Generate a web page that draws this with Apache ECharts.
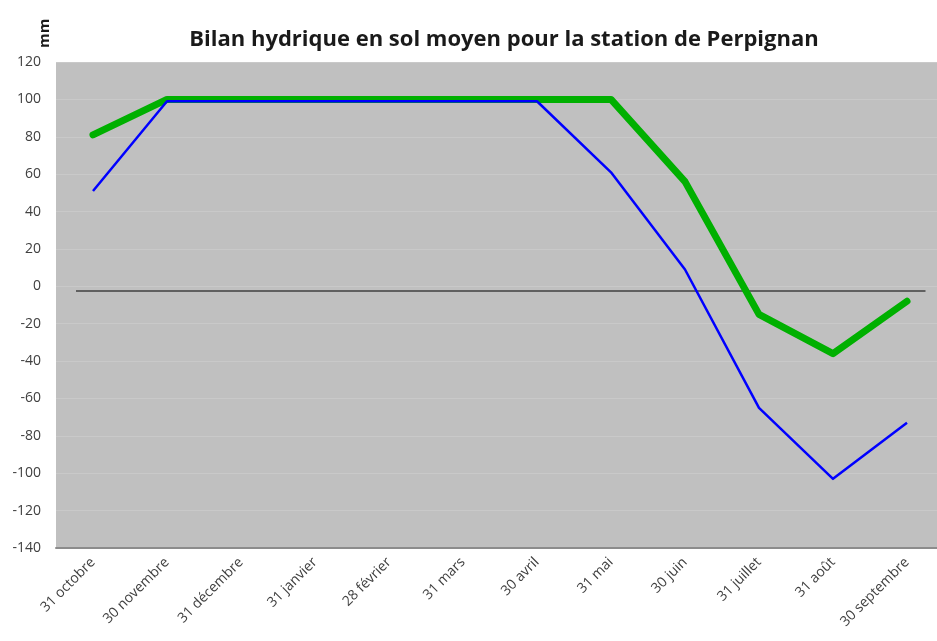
<!DOCTYPE html>
<html>
<head>
<meta charset="utf-8">
<script src="https://cdn.jsdelivr.net/npm/echarts@6/dist/echarts.min.js"></script>
<style>
  html, body { margin: 0; padding: 0; background: #fff; overflow: hidden; }
  #chart { width: 944px; height: 641px; }
</style>
</head>
<body>
<div id="chart"></div>
<script>
// data
const months = ["31 octobre", "30 novembre", "31 décembre", "31 janvier", "28 février", "31 mars",
  "30 avril", "31 mai", "30 juin", "31 juillet", "31 août", "30 septembre"];
const greenSeries = [81, 100, 100, 100, 100, 100, 100, 100, 56, -15, -36, -8];
const blueSeries = [51, 99, 99, 99, 99, 99, 99, 61, 9, -65, -103, -73];
// black reference line, in category-band units along x
const zeroLine = [[0.27, -2.5], [11.75, -2.5]];

const chart = echarts.init(document.getElementById("chart"));
const font = "'Open Sans', sans-serif";

chart.setOption({
  animation: false,
  title: {
    text: "Bilan hydrique en sol moyen pour la station de Perpignan",
    left: 499,
    textAlign: "center",
    top: 24,
    textStyle: { fontFamily: font, fontSize: 22, fontWeight: "bold", color: "#1a1a1a" }
  },
  graphic: [{
    type: "text",
    x: 37, y: 48,
    rotation: Math.PI / 2,
    style: { text: "mm", font: "bold 15px " + font, fill: "#1a1a1a" }
  }],
  grid: { left: 56, right: 0, top: 62, bottom: 93, backgroundColor: "#c0c0c0", show: true, borderWidth: 0 },
  xAxis: [{
    type: "category",
    data: months,
    boundaryGap: true,
    axisLine: { onZero: false, lineStyle: { color: "#8c8c8c", width: 2 } },
    axisTick: { show: false },
    axisLabel: { rotate: 45, fontFamily: font, fontSize: 14, color: "#404040", margin: 12, interval: 0 }
  }, {
    type: "value",
    min: 0, max: 12,
    show: false
  }],
  yAxis: {
    type: "value",
    min: -140, max: 120, interval: 20,
    axisLine: { show: false },
    axisTick: { show: false },
    axisLabel: { fontFamily: font, fontSize: 14, color: "#404040", margin: 15 },
    splitLine: { lineStyle: { color: "#c9c9c9", width: 1 } }
  },
  series: [{
    type: "line",
    xAxisIndex: 1,
    data: zeroLine,
    symbol: "none",
    lineStyle: { color: "#404040", width: 1.5 },
    z: 1
  }, {
    name: "vert",
    type: "line",
    data: greenSeries,
    symbol: "none",
    lineStyle: { color: "#00b000", width: 7, cap: "round", join: "round" },
    z: 2
  }, {
    name: "bleu",
    type: "line",
    data: blueSeries,
    symbol: "none",
    lineStyle: { color: "#0000ff", width: 2.5, join: "round" },
    z: 3
  }]
});
</script>
</body>
</html>
